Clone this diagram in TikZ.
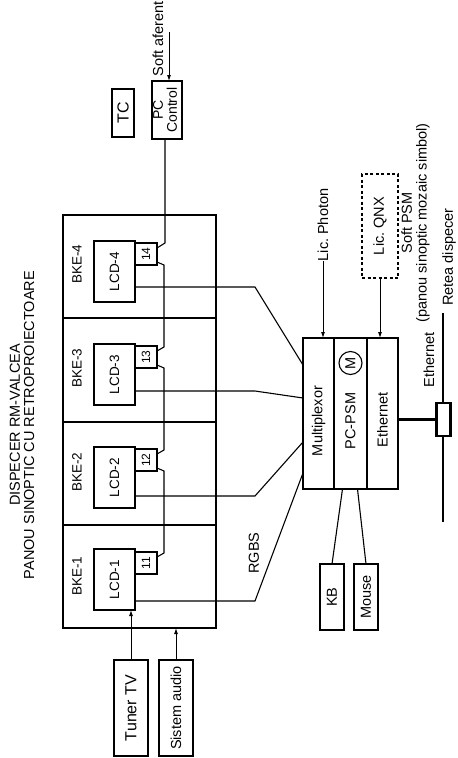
\documentclass[tikz,border=0pt]{standalone}
\usepackage{fontspec}
\setmainfont{Liberation Sans}
\usepackage{graphicx}
\usetikzlibrary{arrows.meta,calc}
\newcommand{\rt}[1]{\rotatebox{90}{#1}}
\newcommand{\rtt}[1]{\rotatebox{90}{\begin{tabular}{@{}c@{}}#1\end{tabular}}}
\begin{document}
\begin{tikzpicture}[x=1pt,y=-1pt, outer sep=0pt,
  box/.style={draw, line width=1.1pt, inner sep=0pt, font=\fontsize{13.5}{13}\selectfont},
  numbox/.style={draw, line width=1.1pt, inner sep=0pt, minimum width=22, minimum height=22, font=\fontsize{12}{12}\selectfont},
  bbox/.style={draw, line width=2.6pt, inner sep=0pt, font=\fontsize{14.5}{14}\selectfont},
  colbox/.style={draw, line width=2.6pt, inner sep=0pt, minimum height=151},
  wire/.style={line width=1.1pt},
  arr/.style={line width=0.9pt,-{Latex[length=6pt,width=4pt]}},
  lbl/.style={inner sep=0pt, font=\fontsize{14.5}{14}\selectfont},
  sublbl/.style={inner sep=0pt, font=\fontsize{13.5}{13}\selectfont},
  divider/.style={line width=2.2pt}
]
\useasboundingbox (0,0) rectangle (458,758);

% title
\node[lbl] (title) at (24,425) {\rtt{DISPECER RM-VALCEA\\PANOU SINOPTIC CU RETROPROIECTOARE}};

% panel
\node[draw, line width=1.1pt, inner sep=0pt, minimum width=153, minimum height=413] (panel) at (139.5,421.5) {};
\draw[divider] (panel.west |- 0,318) -- (panel.east |- 0,318);
\draw[divider] (panel.west |- 0,422) -- (panel.east |- 0,422);
\draw[divider] (panel.west |- 0,525) -- (panel.east |- 0,525);

% sections
\foreach \i/\lc/\nc/\by in {4/271.5/254/264, 3/374.5/357/368, 2/477.5/460/472, 1/579.5/563/576}{
  \node[sublbl] (bke\i) at (77,\by) {\rt{BKE-\i}};
  \node[box, minimum width=41, minimum height=61] (lcd\i) at (114.5,\lc) {\rt{LCD-\i}};
  \node[numbox] (n\i) at (146,\nc) {\rt{1\i}};
}

% top devices
\node[box, minimum width=22, minimum height=48, font=\fontsize{16}{16}\selectfont] (tc) at (123,113) {\rt{TC}};
\node[box, minimum width=30, minimum height=58, font=\fontsize{14}{13}\selectfont] (pcc) at (167,110) {\rtt{PC\\Control}};
\node[lbl] (softaf) at (158,39) {\rt{Soft aferent}};
\coordinate (sa) at (169,32);
\draw[arr] (sa) -- (sa |- pcc.north);

% daisy chain
\draw[wire] ([xshift=-2]pcc.south) -- (165,243) -- ([yshift=6]n4.east);
\draw[wire] ([yshift=-8]n4.east) -- (164,265) -- (164,347) -- ([yshift=6]n3.east);
\draw[wire] ([yshift=-8]n3.east) -- (164,368) -- (164,450) -- ([yshift=6]n2.east);
\draw[wire] ([yshift=-8]n2.east) -- (164,471) -- (164,553) -- ([yshift=6]n1.east);

% PC-PSM
\node[colbox, minimum width=31] (mux) at (318.5,413.5) {};
\node[colbox, minimum width=33] (psm) at (350.5,413.5) {};
\node[colbox, minimum width=31] (eth) at (382.5,413.5) {};
\node[lbl] (muxl) at (318.5,421) {\rt{Multiplexor}};
\node[lbl] (psml) at (350.5,421) {\rt{PC-PSM}};
\node[lbl] (ethl) at (382.5,420) {\rt{Ethernet}};
\node[draw, circle, line width=1.1pt, inner sep=0pt, minimum size=23, font=\fontsize{14.5}{14}\selectfont] (m) at (350.5,363) {\rt{M}};

% LCD to multiplexor
\foreach \i/\w/\e in {4/287/365, 3/391/398, 2/496/442, 1/601/473}{
  \draw[wire] (lcd\i.east |- 0,\w) -- (255,\w) -- (mux.west |- 0,\e);
}
\node[lbl] (rgbs) at (254,553) {\rt{RGBS}};

% licences
\node[lbl] (photon) at (323,225) {\rt{Lic.\ Photon}};
\draw[arr] (photon.south) -- (photon.south |- mux.north);
\node[draw, line width=2.2pt, dash pattern=on 3pt off 2.5pt, inner sep=0pt, minimum width=36, minimum height=104, font=\fontsize{14.5}{14}\selectfont] (qnx) at (380,226) {\rt{Lic.\ QNX}};
\draw[arr] (qnx.south) -- (qnx.south |- eth.north);
\node[lbl] (softpsm) at (416,223) {\rtt{Soft PSM\\(panou sinoptic mozaic simbol)}};

% network
\node[lbl] (retea) at (449,257) {\rt{Retea dispecer}};
\coordinate (rtop) at (443,313);
\coordinate (rbot) at (443,522);
\draw[line width=2.2pt] (rtop) -- (rbot);
\node[draw, fill=white, line width=2.2pt, inner sep=0pt, minimum width=14, minimum height=33] (ebox) at (443.5,419.5) {};
\draw[line width=2.2pt] (eth.east |- ebox.west) -- (ebox.west);
\node[lbl] (ethlbl) at (429,360) {\rt{Ethernet}};

% KB, mouse
\node[bbox, minimum width=24, minimum height=66] (kb) at (332,597) {\rt{KB}};
\node[bbox, minimum width=24, minimum height=66] (mouse) at (366,597) {\rt{Mouse}};
\draw[wire] ([xshift=-8]psm.south) -- (kb.north);
\draw[wire] ([xshift=7]psm.south) -- (mouse.north);

% inputs
\node[bbox, minimum width=34, minimum height=96, font=\fontsize{16}{16}\selectfont] (tuner) at (131,708) {\rt{Tuner TV}};
\node[bbox, minimum width=34, minimum height=96] (audio) at (176,708) {\rt{Sistem audio}};
\draw[arr] (tuner.north) -- (tuner.north |- lcd1.south);
\draw[arr] (audio.north) -- (audio.north |- panel.south);
\end{tikzpicture}
\end{document}
